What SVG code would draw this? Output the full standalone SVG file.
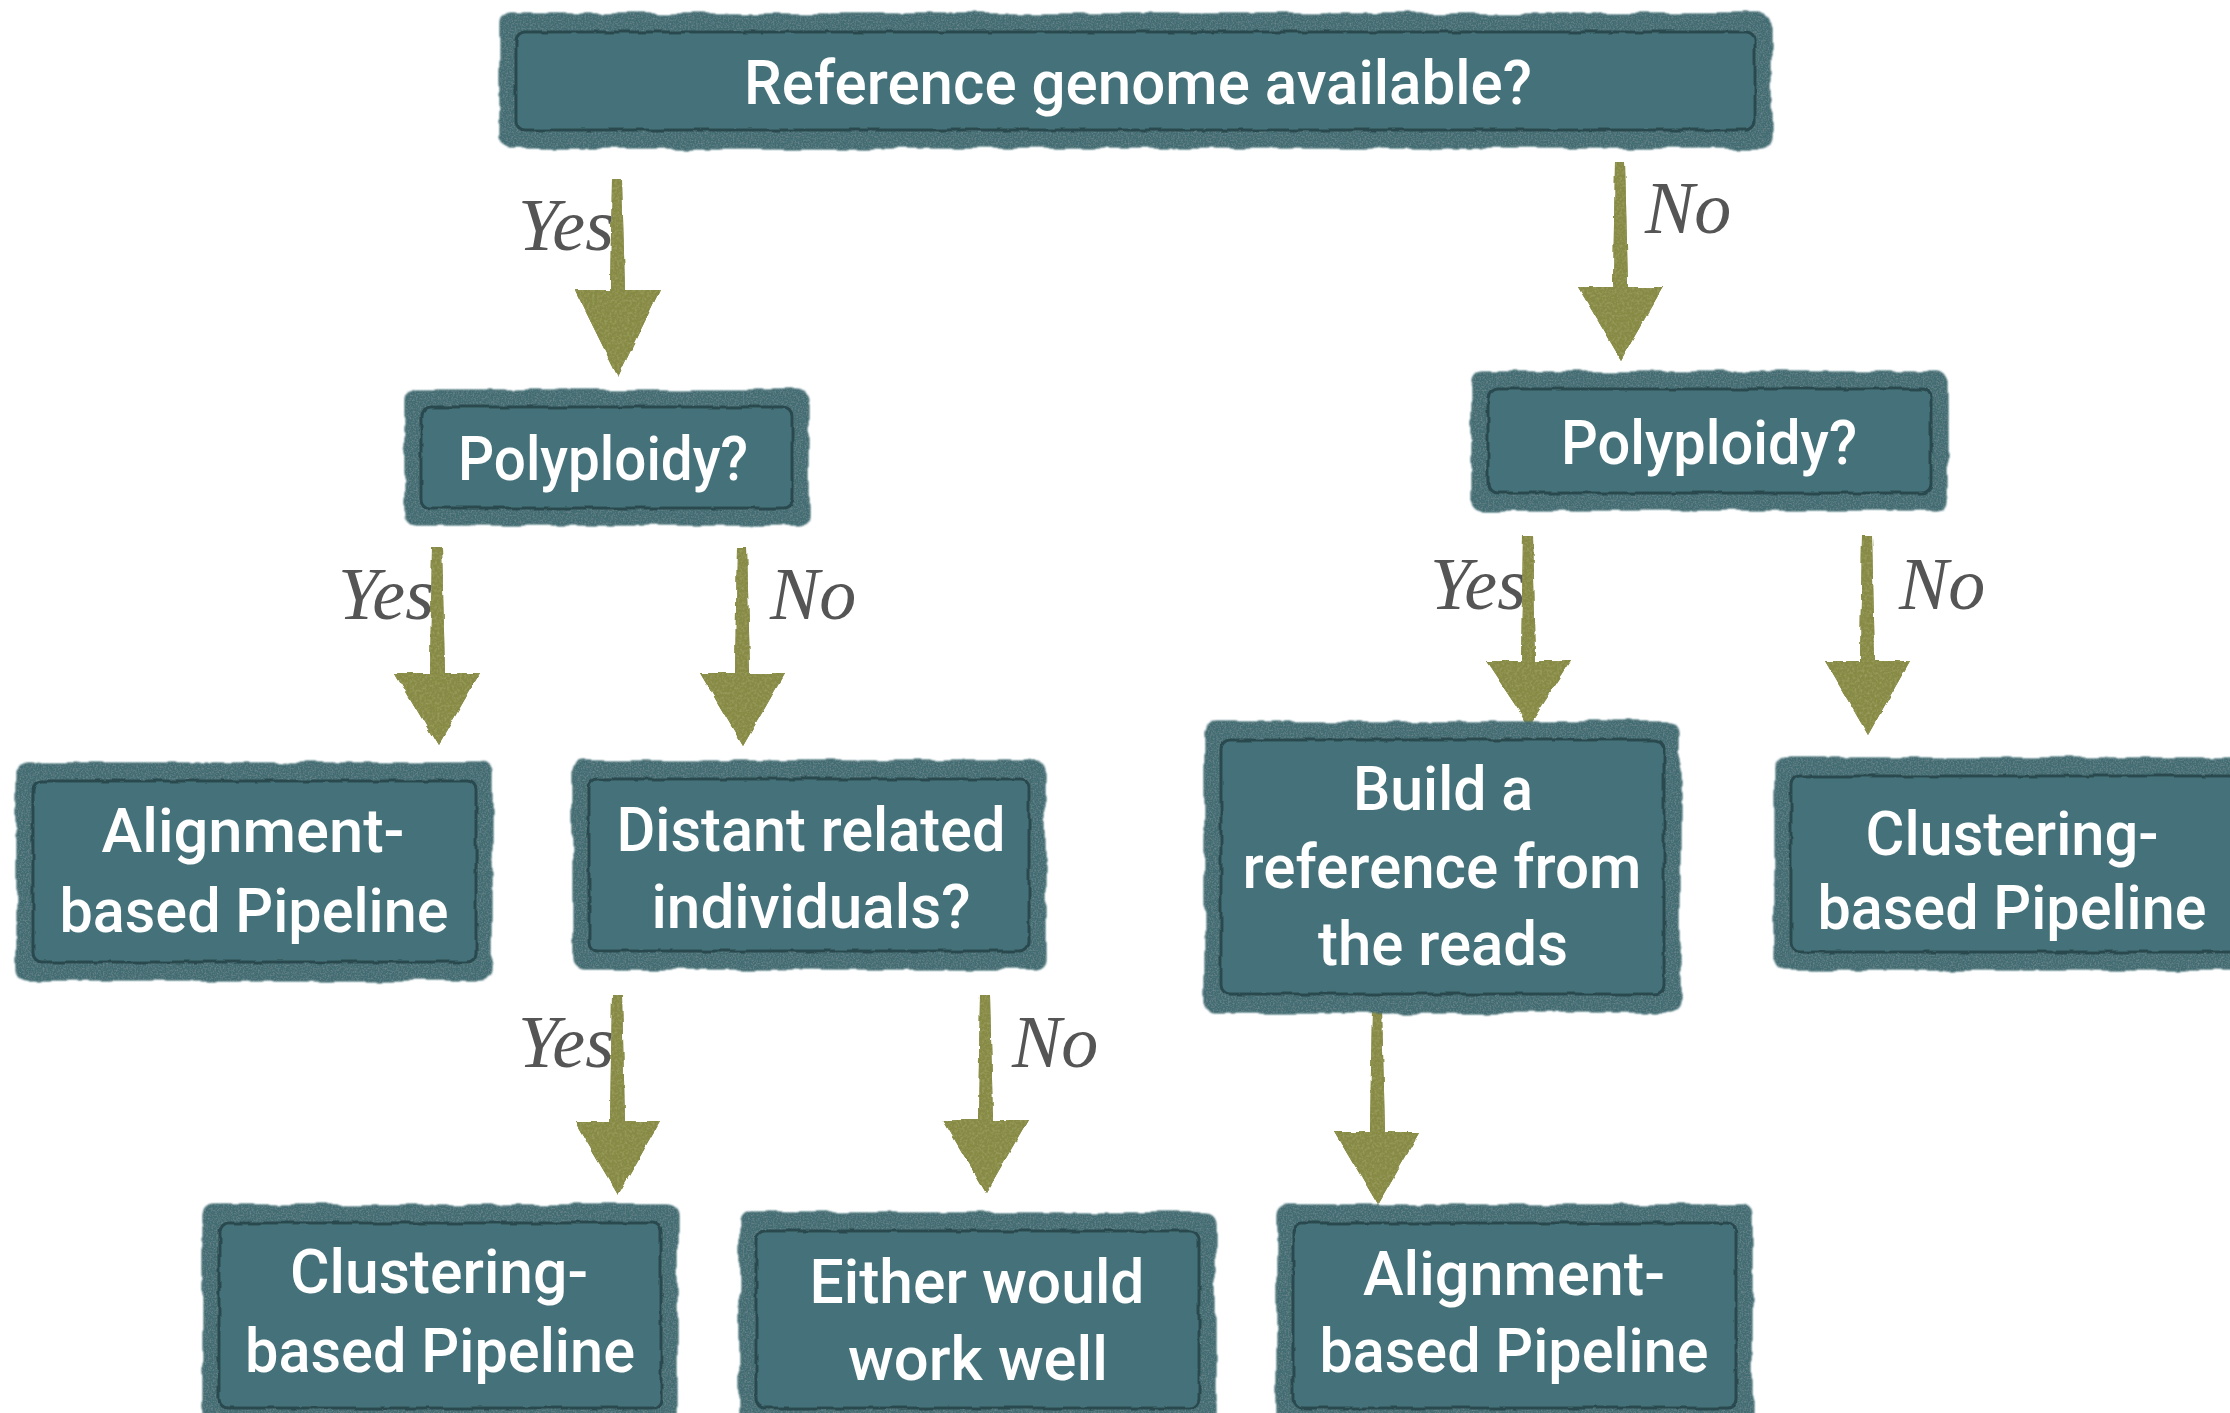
<svg xmlns="http://www.w3.org/2000/svg" width="2230" height="1413" viewBox="0 0 2230 1413">
  <defs>
    <!-- torn-paper edge plus fine cloth grain for the teal cards -->
    <filter id="card" x="-4%" y="-6%" width="108%" height="112%">
      <feTurbulence type="fractalNoise" baseFrequency="0.03" numOctaves="3" seed="7" result="warp"/>
      <feDisplacementMap in="SourceGraphic" in2="warp" scale="8" xChannelSelector="R" yChannelSelector="G" result="torn"/>
      <feGaussianBlur in="torn" stdDeviation="1.2" result="soft"/>
      <feTurbulence type="fractalNoise" baseFrequency="0.6" numOctaves="2" seed="3" result="grain"/>
      <feColorMatrix in="grain" type="matrix" values="0 0 0 0 1  0 0 0 0 1  0 0 0 0 1  0.22 0 0 0 -0.09" result="speck"/>
      <feComposite in="speck" in2="soft" operator="atop" result="speckIn"/>
      <feMerge><feMergeNode in="soft"/><feMergeNode in="speckIn"/></feMerge>
    </filter>
    <!-- wobbly inner rule -->
    <filter id="wobble" x="-4%" y="-6%" width="108%" height="112%">
      <feTurbulence type="fractalNoise" baseFrequency="0.06" numOctaves="2" seed="11" result="w"/>
      <feDisplacementMap in="SourceGraphic" in2="w" scale="4" xChannelSelector="R" yChannelSelector="G"/>
    </filter>
    <!-- brushy arrow strokes -->
    <filter id="brush" x="-30%" y="-5%" width="160%" height="110%">
      <feTurbulence type="fractalNoise" baseFrequency="0.07" numOctaves="2" seed="5" result="warp"/>
      <feDisplacementMap in="SourceGraphic" in2="warp" scale="4" xChannelSelector="R" yChannelSelector="G" result="rough"/>
      <feGaussianBlur in="rough" stdDeviation="0.7" result="soft"/>
      <feTurbulence type="fractalNoise" baseFrequency="0.4" numOctaves="2" seed="9" result="grain"/>
      <feColorMatrix in="grain" type="matrix" values="0 0 0 0 0.7  0 0 0 0 0.75  0 0 0 0 0.35  0.4 0 0 0 -0.17" result="speck"/>
      <feComposite in="speck" in2="soft" operator="atop" result="speckIn"/>
      <feMerge><feMergeNode in="soft"/><feMergeNode in="speckIn"/></feMerge>
    </filter>
    <style>
      .box { fill: #416c72; filter: url(#card); }
      .inner { fill: #44727a; stroke: #2b4a4f; stroke-width: 3; filter: url(#wobble); }
      .txt { font-family: Roboto, "Liberation Sans", sans-serif; font-weight: 500; font-size: 62px; fill: #ffffff; text-anchor: middle; }
      .arrow { fill: #878a44; filter: url(#brush); }
      .edge-label { font-family: "Liberation Serif", serif; font-style: italic; font-size: 74px; fill: #555555; }
      .yes { text-anchor: end; }
    </style>
  </defs>

  <rect x="0" y="0" width="2230" height="1413" fill="#ffffff"/>

  <!-- branch labels -->
  <g id="edge-labels">
    <text class="edge-label yes" x="614" y="250">Yes</text>
    <text class="edge-label" x="1645" y="233">No</text>
    <text class="edge-label yes" x="434" y="619">Yes</text>
    <text class="edge-label" x="770" y="619">No</text>
    <text class="edge-label yes" x="1526" y="609">Yes</text>
    <text class="edge-label" x="1899" y="609">No</text>
    <text class="edge-label yes" x="614" y="1067">Yes</text>
    <text class="edge-label" x="1012" y="1067">No</text>
  </g>

  <!-- connectors: shaft tapering into a triangular head -->
  <g id="connectors">
    <path class="arrow" d="M612 180 L622 180 L625 290 L660 290 L618 377 L575 290 L610 290 Z"/>
    <path class="arrow" d="M1615 162 L1625 162 L1628 287 L1663 287 L1621 360 L1578 287 L1613 287 Z"/>
    <path class="arrow" d="M432 547 L442 547 L445 673 L480 673 L438 746 L395 673 L430 673 Z"/>
    <path class="arrow" d="M737 547 L747 547 L750 673 L785 673 L743 746 L700 673 L735 673 Z"/>
    <path class="arrow" d="M1523 536 L1533 536 L1536 661 L1571 661 L1529 726 L1486 661 L1521 661 Z"/>
    <path class="arrow" d="M1862 536 L1872 536 L1875 661 L1910 661 L1868 735 L1825 661 L1860 661 Z"/>
    <path class="arrow" d="M612 995 L622 995 L625 1122 L660 1122 L618 1195 L575 1122 L610 1122 Z"/>
    <path class="arrow" d="M980 995 L990 995 L993 1120 L1028 1120 L986 1193 L943 1120 L978 1120 Z"/>
    <path class="arrow" d="M1372 1010 L1382 1010 L1385 1132 L1420 1132 L1378 1205 L1335 1132 L1370 1132 Z"/>
  </g>

  <g id="node-reference-genome">
    <rect class="box" x="500" y="14" width="1271" height="134" rx="10"/>
    <rect class="inner" x="516" y="32" width="1239" height="98" rx="9"/>
    <text class="txt" x="1138" y="104" textLength="788" lengthAdjust="spacingAndGlyphs">Reference genome available?</text>
  </g>

  <g id="node-polyploidy-ref">
    <rect class="box" x="405" y="390" width="403" height="135" rx="10"/>
    <rect class="inner" x="421" y="407" width="371" height="101" rx="9"/>
    <text class="txt" x="603" y="480" textLength="290" lengthAdjust="spacingAndGlyphs">Polyploidy?</text>
  </g>

  <g id="node-polyploidy-noref">
    <rect class="box" x="1472" y="372" width="475" height="138" rx="10"/>
    <rect class="inner" x="1488" y="389" width="443" height="104" rx="9"/>
    <text class="txt" x="1709" y="464" textLength="296" lengthAdjust="spacingAndGlyphs">Polyploidy?</text>
  </g>

  <g id="node-alignment-left">
    <rect class="box" x="17" y="763" width="475" height="217" rx="10"/>
    <rect class="inner" x="33" y="781" width="443" height="181" rx="9"/>
    <text class="txt" x="253" y="852" textLength="303" lengthAdjust="spacingAndGlyphs">Alignment-</text>
    <text class="txt" x="254" y="932" textLength="389" lengthAdjust="spacingAndGlyphs">based Pipeline</text>
  </g>

  <g id="node-distant">
    <rect class="box" x="573" y="761" width="472" height="208" rx="10"/>
    <rect class="inner" x="589" y="779" width="440" height="172" rx="9"/>
    <text class="txt" x="811" y="851" textLength="389" lengthAdjust="spacingAndGlyphs">Distant related</text>
    <text class="txt" x="811" y="928" textLength="319" lengthAdjust="spacingAndGlyphs">individuals?</text>
  </g>

  <g id="node-build-reference">
    <rect class="box" x="1205" y="722" width="475" height="290" rx="10"/>
    <rect class="inner" x="1221" y="740" width="443" height="254" rx="9"/>
    <text class="txt" x="1443" y="810" textLength="180" lengthAdjust="spacingAndGlyphs">Build a</text>
    <text class="txt" x="1442" y="888" textLength="399" lengthAdjust="spacingAndGlyphs">reference from</text>
    <text class="txt" x="1443" y="965" textLength="250" lengthAdjust="spacingAndGlyphs">the reads</text>
  </g>

  <g id="node-clustering-right">
    <rect class="box" x="1775" y="758" width="480" height="212" rx="10"/>
    <rect class="inner" x="1791" y="776" width="448" height="176" rx="9"/>
    <text class="txt" x="2012" y="855" textLength="293" lengthAdjust="spacingAndGlyphs">Clustering-</text>
    <text class="txt" x="2012" y="929" textLength="389" lengthAdjust="spacingAndGlyphs">based Pipeline</text>
  </g>

  <g id="node-clustering-bottom">
    <rect class="box" x="203" y="1205" width="474" height="225" rx="10"/>
    <rect class="inner" x="219" y="1223" width="442" height="185" rx="9"/>
    <text class="txt" x="439" y="1293" textLength="298" lengthAdjust="spacingAndGlyphs">Clustering-</text>
    <text class="txt" x="440" y="1372" textLength="390" lengthAdjust="spacingAndGlyphs">based Pipeline</text>
  </g>

  <g id="node-either">
    <rect class="box" x="740" y="1213" width="475" height="217" rx="10"/>
    <rect class="inner" x="756" y="1231" width="443" height="177" rx="9"/>
    <text class="txt" x="977" y="1303" textLength="335" lengthAdjust="spacingAndGlyphs">Either would</text>
    <text class="txt" x="978" y="1380" textLength="260" lengthAdjust="spacingAndGlyphs">work well</text>
  </g>

  <g id="node-alignment-bottom">
    <rect class="box" x="1277" y="1205" width="475" height="225" rx="10"/>
    <rect class="inner" x="1293" y="1223" width="443" height="185" rx="9"/>
    <text class="txt" x="1514" y="1295" textLength="302" lengthAdjust="spacingAndGlyphs">Alignment-</text>
    <text class="txt" x="1514" y="1372" textLength="389" lengthAdjust="spacingAndGlyphs">based Pipeline</text>
  </g>
</svg>
